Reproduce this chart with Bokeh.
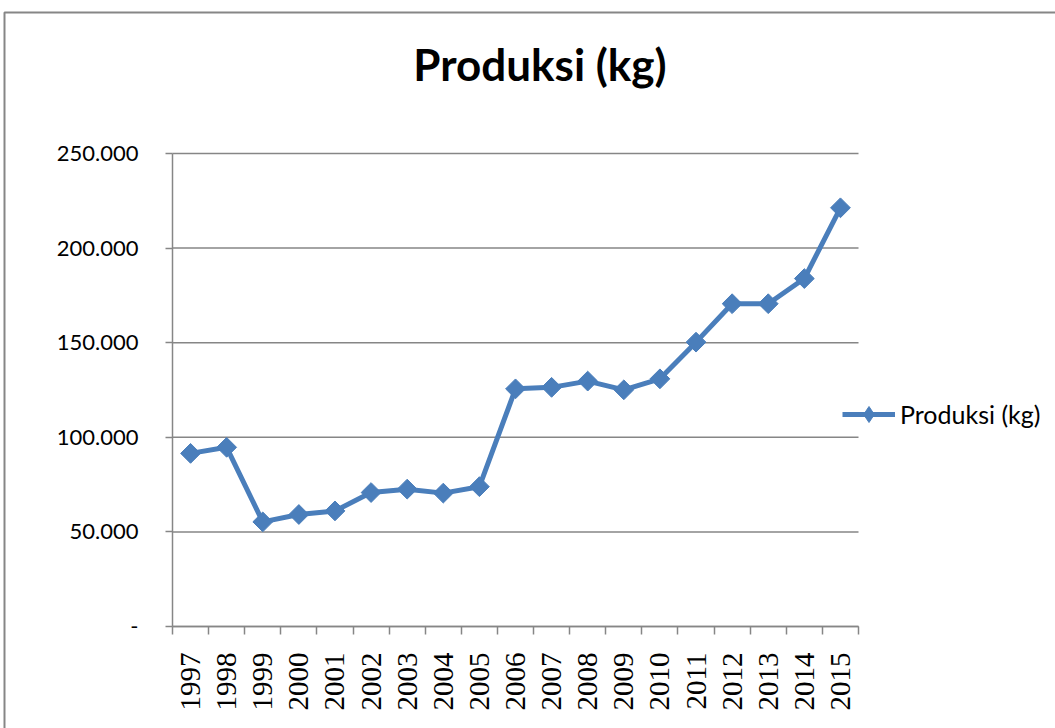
import math
from bokeh.plotting import figure
from bokeh.models import FixedTicker, Label, Legend, LegendItem, Range1d, BoxAnnotation
from bokeh.embed import file_html
from bokeh.resources import INLINE

years = ["1997", "1998", "1999", "2000", "2001", "2002", "2003", "2004", "2005", "2006",
         "2007", "2008", "2009", "2010", "2011", "2012", "2013", "2014", "2015"]
produksi = [91500, 94700, 55300, 59200, 61100, 70800, 72600, 70500, 73900, 125600,
            126400, 129700, 125100, 130900, 150300, 170600, 170600, 183900, 221300]
y_ticks = [0, 50000, 100000, 150000, 200000, 250000]
y_tick_labels = ["-", "50.000", "100.000", "150.000", "200.000", "250.000"]
title_text = "Produksi (kg)"
series_name = "Produksi (kg)"

xs = list(range(len(years)))
GRAY = "#868686"
BLUE = "#4a7ebb"

W, H = 1055, 728
# plot area in page pixels
PL, PR, PT, PB = 172, 858, 153, 626
X0, X1 = -0.5, len(years) - 0.5
Y0, Y1 = 0, 250000
PX_PER_X = (PR - PL) / (X1 - X0)
PX_PER_Y = (PB - PT) / (Y1 - Y0)

# The frame covers the whole canvas; axes are pinned to the plot-area edges.
p = figure(width=W, height=H, output_backend="svg", toolbar_location=None,
           x_range=Range1d(X0 - PL / PX_PER_X, X1 + (W - PR) / PX_PER_X),
           y_range=Range1d(Y0 - (H - PB) / PX_PER_Y, Y1 + PT / PX_PER_Y),
           min_border=0)
p.outline_line_color = None
p.background_fill_color = "white"
p.border_fill_color = "white"
p.xgrid.grid_line_color = None
p.ygrid.grid_line_color = None

# chart-area border (top and left edges visible)
p.add_layout(BoxAnnotation(left=X0 - (PL - 4) / PX_PER_X, top=Y1 + (PT - 12) / PX_PER_Y,
                           right=X1 + (W + 20 - PR) / PX_PER_X,
                           bottom=Y0 - (H + 20 - PB) / PX_PER_Y,
                           fill_alpha=0, line_color=GRAY, line_alpha=1, line_width=2,
                           level="underlay"))

# horizontal gridlines over the plot area only
p.segment(x0=[X0] * len(y_ticks), x1=[X1] * len(y_ticks), y0=y_ticks, y1=y_ticks,
          line_color=GRAY, line_width=1.5)

# x axis
p.xaxis.fixed_location = Y0
p.xaxis.bounds = (X0, X1)
p.xaxis.ticker = FixedTicker(ticks=xs, minor_ticks=[i - 0.5 for i in range(len(years) + 1)])
p.xaxis.major_label_overrides = {i: y for i, y in enumerate(years)}
p.xaxis.major_label_orientation = math.pi / 2
p.xaxis.major_tick_out = 0
p.xaxis.major_tick_in = 0
p.xaxis.minor_tick_out = 8
p.xaxis.minor_tick_in = 0
p.xaxis.minor_tick_line_color = GRAY
p.xaxis.minor_tick_line_width = 1.5
p.xaxis.axis_line_color = GRAY
p.xaxis.axis_line_width = 1.5
p.xaxis.major_label_text_font = "Liberation Serif"
p.xaxis.major_label_text_font_size = "29px"
p.xaxis.major_label_text_color = "black"
p.xaxis.major_label_standoff = 18

# y axis
p.yaxis.fixed_location = X0
p.yaxis.bounds = (Y0, Y1)
p.yaxis.ticker = FixedTicker(ticks=y_ticks, minor_ticks=[])
p.yaxis.major_label_overrides = {t: l for t, l in zip(y_ticks, y_tick_labels)}
p.yaxis.major_tick_out = 7
p.yaxis.major_tick_in = 0
p.yaxis.major_tick_line_color = GRAY
p.yaxis.major_tick_line_width = 1.5
p.yaxis.axis_line_color = GRAY
p.yaxis.axis_line_width = 1.5
p.yaxis.major_label_text_font = "Lato"
p.yaxis.major_label_text_font_size = "22px"
p.yaxis.major_label_text_color = "black"
p.yaxis.major_label_standoff = 27

line_r = p.line(xs, produksi, line_color=BLUE, line_width=5)
# diamond glyph (hidden under the rotated squares) that gives the legend its symbol
leg_mark = p.scatter(xs, produksi, marker="diamond", size=16, fill_color=BLUE, line_color=BLUE)
mark_r = p.scatter(xs, produksi, marker="square", angle=math.pi / 4, size=14,
                   fill_color=BLUE, line_color=BLUE)

legend = Legend(items=[LegendItem(label=series_name, renderers=[line_r, leg_mark])],
                location=(842, H - 434), padding=0, margin=0, spacing=0,
                glyph_width=53, glyph_height=40, label_standoff=5,
                border_line_color=None, background_fill_alpha=0,
                label_text_font="Lato", label_text_font_size="25px", label_text_color="black")
p.add_layout(legend, "center")

title = Label(x=X0 + (539.5 - PL) / PX_PER_X, y=Y1 + (PT - 63) / PX_PER_Y, text=title_text,
              text_align="center", text_baseline="alphabetic", text_font="Lato",
              text_font_style="bold", text_font_size="44px", text_color="black")
p.add_layout(title)

open("out.html", "w").write(file_html(p, INLINE))
